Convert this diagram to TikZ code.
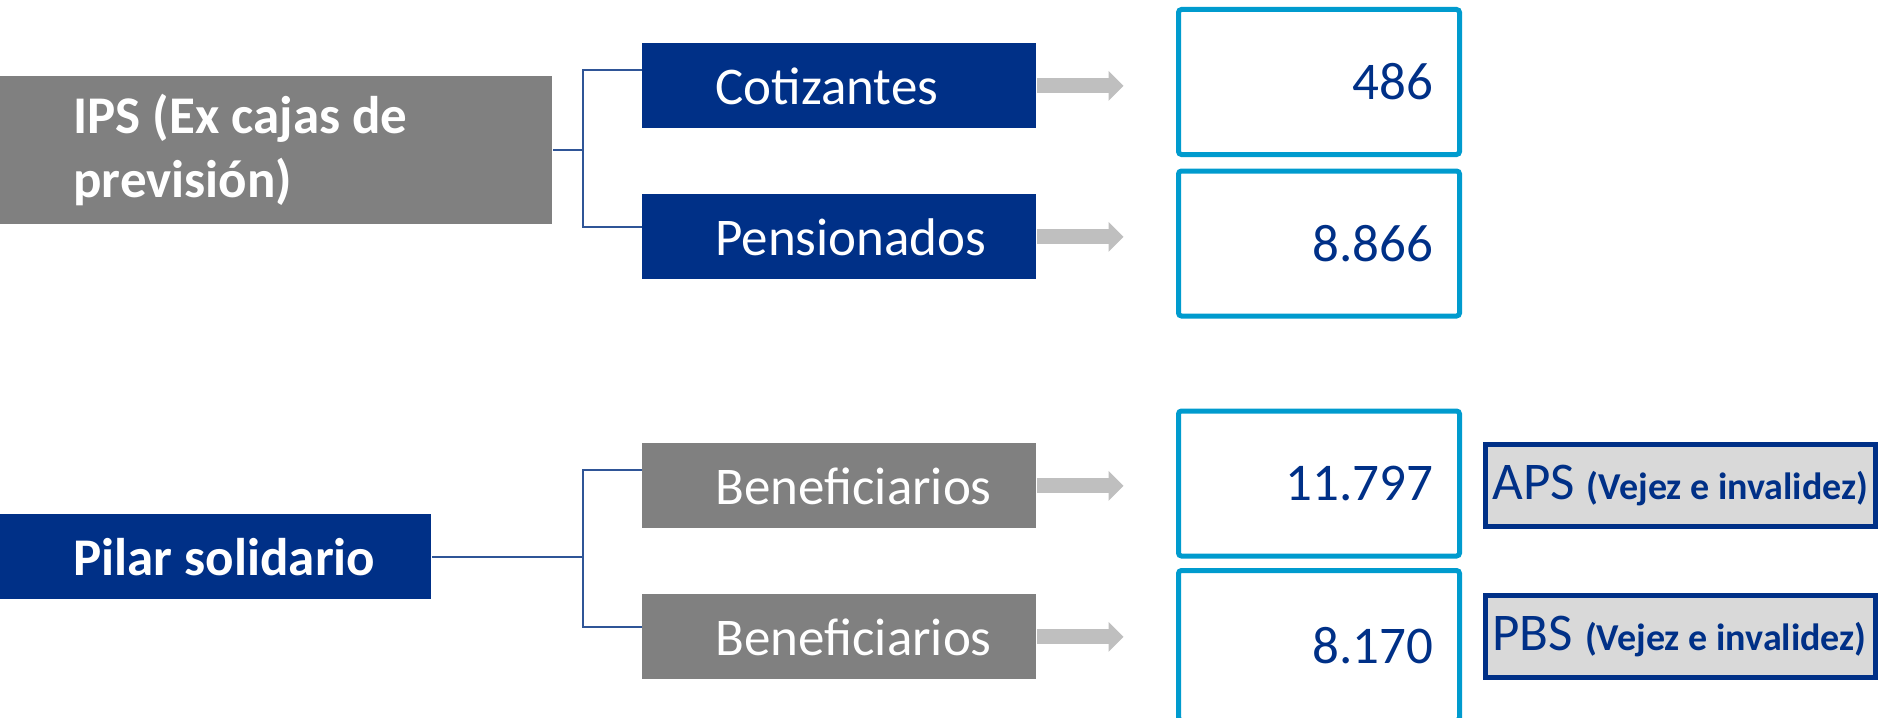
\documentclass[tikz,border=0pt]{standalone}
\usepackage{fontspec}
\setmainfont{Carlito}
\usetikzlibrary{arrows.meta}
\definecolor{c1}{RGB}{0,48,135}
\definecolor{c2}{RGB}{128,128,128}
\definecolor{c3}{RGB}{0,155,206}
\definecolor{c4}{RGB}{191,191,191}
\definecolor{c5}{RGB}{217,217,217}
\definecolor{c6}{RGB}{47,85,151}
\tikzstyle{esquema}=[
    x=0.5pt, y=-0.5pt,
    caja/.style={rectangle, fill=##1, text=white, anchor=north west,
        inner xsep=0pt, inner ysep=0pt, align=flush left,
        execute at begin node={\leftskip=36.5pt\relax},
        font={\fontsize{26.5}{32}\selectfont}},
    cifra/.style={rectangle, draw=c3, line width=2.5pt, rounded corners=1.5pt,
        minimum width=140.5pt, text width=114.5pt, inner xsep=13pt, align=flush right,
        text=c1, font={\fontsize{26.5}{32}\selectfont}},
    nota/.style={rectangle, draw=c1, fill=c5, line width=2.5pt,
        minimum width=195pt, minimum height=41pt, text width=188pt, inner xsep=3.5pt,
        align=flush left, text=c1, font={\fontsize{26.5}{30}\selectfont}},
    flecha/.style={draw=c4, line width=7.5pt, shorten >=26.25pt,
        -{Triangle[length=7.5pt,width=15pt,line width=0pt]}},
    rama/.style={draw=c6, line width=1pt},
]
\newcommand{\sub}[1]{{\fontsize{19}{22}\selectfont\bfseries #1}}

\begin{document}
\begin{tikzpicture}[esquema]
    \path[use as bounding box] (0,0) rectangle (1878,717);
    \clip (0,0) rectangle (1878,717);

    \node[caja=c2, text width=276pt, minimum height=74pt] (ips) at (0,76)
        {\bfseries IPS (Ex cajas de\\previsión)};
    \node[caja=c1, text width=215.5pt, minimum height=42.5pt] (pilar) at (0,514)
        {\bfseries Pilar solidario};

    \foreach \n/\t/\c/\y/\v/\w/\h in {cot/Cotizantes/c1/43/486/82/72.5,
        pen/Pensionados/c1/194/8.866/243.5/72.5,
        ben1/Beneficiarios/c2/443/11.797/483.5/72.5,
        ben2/Beneficiarios/c2/594/8.170/645.5/75}
    {
        \node[caja=\c, text width=197pt, minimum height=42.5pt] (\n) at (642,\y) {\t};
        \node[cifra, minimum height=\h pt] (v\n) at (1319,\w) {\v};
        \draw[flecha] (\n.east) -- (\n.east -| v\n.west);
    }

    \draw[rama] (ips.east) -- ++(30,0) coordinate (f1);
    \draw[rama] (f1) |- ([yshift=8pt]cot.west);
    \draw[rama] (f1) |- ([yshift=5pt]pen.west);
    \draw[rama] (pilar.east) -- (pilar.east -| f1) coordinate (f2);
    \draw[rama] (f2) |- ([yshift=8pt]ben1.west);
    \draw[rama] (f2) |- ([yshift=5pt]ben2.west);

    \node[nota] (aps) at (1680.5,485.5) {\mbox{APS \sub{(Vejez e invalidez)}}};
    \node[nota] (pbs) at (1680.5,636.5) {\mbox{PBS \sub{(Vejez e invalidez)}}};
\end{tikzpicture}
\end{document}
